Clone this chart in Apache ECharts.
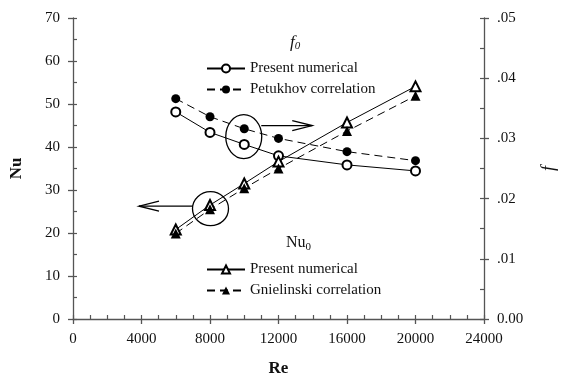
<!DOCTYPE html>
<html>
<head>
<meta charset="utf-8">
<script src="https://cdn.jsdelivr.net/npm/echarts@6/dist/echarts.min.js"></script>
<style>
html,body{margin:0;padding:0;background:#fff;}
#c{width:566px;height:382px;}
</style>
</head>
<body>
<div id="c"></div>
<script>
var re = [6000, 8000, 10000, 12000, 16000, 20000];
var nuNumerical = [20.8, 26.5, 31.5, 36.6, 45.7, 54.1];
var nuGnielinski = [19.9, 25.5, 30.4, 35.0, 43.7, 51.9];
var fNumerical = [0.0344, 0.0310, 0.0290, 0.0271, 0.0256, 0.0246];
var fPetukhov = [0.0366, 0.0336, 0.0316, 0.0300, 0.0278, 0.0263];
var fTickLabels = ['0.00', '.01', '.02', '.03', '.04', '.05'];

var FONT = 'Liberation Serif';
var TXT = '#111';
var AX = '#555';

function pairs(xs, ys) { return xs.map(function (x, i) { return [x, ys[i]]; }); }

var chart = echarts.init(document.getElementById('c'), null, {renderer: 'canvas'});

var grid = {left: 73, right: 74, top: 18, bottom: 63};

var option = {
  animation: false,
  backgroundColor: '#fff',
  grid: grid,
  xAxis: [
    {
      type: 'value', min: 0, max: 24000, interval: 4000, position: 'bottom',
      name: 'Re', nameLocation: 'middle', nameGap: 41,
      nameTextStyle: {fontFamily: FONT, fontSize: 17, fontWeight: 'bold', color: TXT},
      axisLine: {show: true, onZero: false, lineStyle: {color: AX, width: 1.3}},
      axisTick: {show: true, inside: false, length: 5, lineStyle: {color: AX, width: 1.3}},
      axisLabel: {margin: 13, fontFamily: FONT, fontSize: 15, color: TXT,
        formatter: function (v) { return String(v); }},
      splitLine: {show: false}
    },
    {
      type: 'value', min: 0, max: 24000, interval: 1000, position: 'bottom',
      axisLine: {show: false, onZero: false},
      axisTick: {show: true, inside: true, length: 4, lineStyle: {color: AX, width: 1.2}},
      axisLabel: {show: false},
      splitLine: {show: false}
    }
  ],
  yAxis: [
    {
      type: 'value', min: 0, max: 70, interval: 10, position: 'left',
      name: 'Nu', nameLocation: 'middle', nameGap: 48, nameRotate: 90,
      nameTextStyle: {fontFamily: FONT, fontSize: 17, fontWeight: 'bold', color: TXT},
      axisLine: {show: true, onZero: false, lineStyle: {color: AX, width: 1.3}},
      axisTick: {show: true, inside: false, length: 5, lineStyle: {color: AX, width: 1.3}},
      axisLabel: {margin: 13, fontFamily: FONT, fontSize: 15, color: TXT},
      splitLine: {show: false}
    },
    {
      type: 'value', min: 0, max: 0.05, interval: 0.01, position: 'right',
      name: 'f', nameLocation: 'middle', nameGap: 56, nameRotate: 90,
      nameTextStyle: {fontFamily: FONT, fontSize: 18, fontStyle: 'italic', color: TXT},
      axisLine: {show: true, onZero: false, lineStyle: {color: AX, width: 1.3}},
      axisTick: {show: true, inside: false, length: 5, lineStyle: {color: AX, width: 1.3}},
      axisLabel: {margin: 13, fontFamily: FONT, fontSize: 15, color: TXT,
        formatter: function (v) { return fTickLabels[Math.round(v * 100)]; }},
      splitLine: {show: false}
    },
    {
      type: 'value', min: 0, max: 70, interval: 5, position: 'left',
      axisLine: {show: false, onZero: false},
      axisTick: {show: true, inside: true, length: 4, lineStyle: {color: AX, width: 1.2}},
      axisLabel: {show: false},
      splitLine: {show: false}
    },
    {
      type: 'value', min: 0, max: 0.05, interval: 0.005, position: 'right',
      axisLine: {show: false, onZero: false},
      axisTick: {show: true, inside: true, length: 4, lineStyle: {color: AX, width: 1.2}},
      axisLabel: {show: false},
      splitLine: {show: false}
    }
  ],
  legend: [
    {
      orient: 'vertical', left: 201, top: 56, itemWidth: 38, itemHeight: 10, itemGap: 6,
      textStyle: {fontFamily: FONT, fontSize: 15, color: TXT},
      data: ['Present numerical (f)', 'Petukhov correlation'],
      formatter: function (n) { return n.replace(' (f)', ''); }
    },
    {
      orient: 'vertical', left: 201, top: 257, itemWidth: 38, itemHeight: 10, itemGap: 6,
      textStyle: {fontFamily: FONT, fontSize: 15, color: TXT},
      data: ['Present numerical (Nu)', 'Gnielinski correlation'],
      formatter: function (n) { return n.replace(' (Nu)', ''); }
    }
  ],
  series: [
    {
      name: 'Present numerical (f)', type: 'line', xAxisIndex: 0, yAxisIndex: 1,
      data: pairs(re, fNumerical), symbol: 'emptyCircle', symbolSize: 9,
      lineStyle: {color: '#000', width: 1, type: 'solid'},
      itemStyle: {color: '#000', borderColor: '#000', borderWidth: 1}
    },
    {
      name: 'Petukhov correlation', type: 'line', xAxisIndex: 0, yAxisIndex: 1,
      data: pairs(re, fPetukhov), symbol: 'circle', symbolSize: 9,
      lineStyle: {color: '#000', width: 1, type: [8, 5]},
      itemStyle: {color: '#000'}
    },
    {
      name: 'Present numerical (Nu)', type: 'line', xAxisIndex: 0, yAxisIndex: 0,
      data: pairs(re, nuNumerical), symbol: 'emptyTriangle', symbolSize: 10,
      lineStyle: {color: '#000', width: 1, type: 'solid'},
      itemStyle: {color: '#000', borderColor: '#000', borderWidth: 1}
    },
    {
      name: 'Gnielinski correlation', type: 'line', xAxisIndex: 0, yAxisIndex: 0,
      data: pairs(re, nuGnielinski), symbol: 'triangle', symbolSize: 10,
      lineStyle: {color: '#000', width: 1, type: [8, 5]},
      itemStyle: {color: '#000'}
    }
  ]
};

chart.setOption(option);

// annotations anchored to data
var c1 = chart.convertToPixel({xAxisIndex: 0, yAxisIndex: 1}, [re[2], (fNumerical[2] + fPetukhov[2]) / 2]);
var c2 = chart.convertToPixel({xAxisIndex: 0, yAxisIndex: 0}, [re[1], (nuNumerical[1] + nuGnielinski[1]) / 2]);
var ls = {stroke: '#000', lineWidth: 1.3, fill: null};

chart.setOption({
  graphic: [
    {type: 'ellipse', shape: {cx: c1[0] - 0.5, cy: c1[1], rx: 18, ry: 22}, style: ls, z: 100},
    {type: 'line', shape: {x1: c1[0] + 17, y1: c1[1] - 11, x2: c1[0] + 68, y2: c1[1] - 11}, style: ls, z: 100},
    {type: 'polyline', shape: {points: [[c1[0] + 48, c1[1] - 16], [c1[0] + 68, c1[1] - 11], [c1[0] + 48, c1[1] - 6]]}, style: ls, z: 100},
    {type: 'ellipse', shape: {cx: c2[0] + 0.5, cy: c2[1] + 1.5, rx: 18, ry: 17}, style: ls, z: 100},
    {type: 'line', shape: {x1: c2[0] - 17, y1: c2[1] - 1, x2: c2[0] - 71, y2: c2[1] - 1}, style: ls, z: 100},
    {type: 'polyline', shape: {points: [[c2[0] - 51, c2[1] - 6], [c2[0] - 71, c2[1] - 1], [c2[0] - 51, c2[1] + 4]]}, style: ls, z: 100},
    {type: 'text', left: 290, top: 34, z: 100,
      style: {text: '{a|f}{b|0}', rich: {
        a: {fontFamily: FONT, fontSize: 17, fontStyle: 'italic', fill: TXT},
        b: {fontFamily: FONT, fontSize: 11, fontStyle: 'italic', fill: TXT, padding: [8, 0, 0, 0]}
      }}},
    {type: 'text', left: 286, top: 235, z: 100,
      style: {text: '{a|Nu}{b|0}', rich: {
        a: {fontFamily: FONT, fontSize: 16, fill: TXT},
        b: {fontFamily: FONT, fontSize: 11, fill: TXT, padding: [8, 0, 0, 0]}
      }}}
  ]
});
</script>
</body>
</html>
